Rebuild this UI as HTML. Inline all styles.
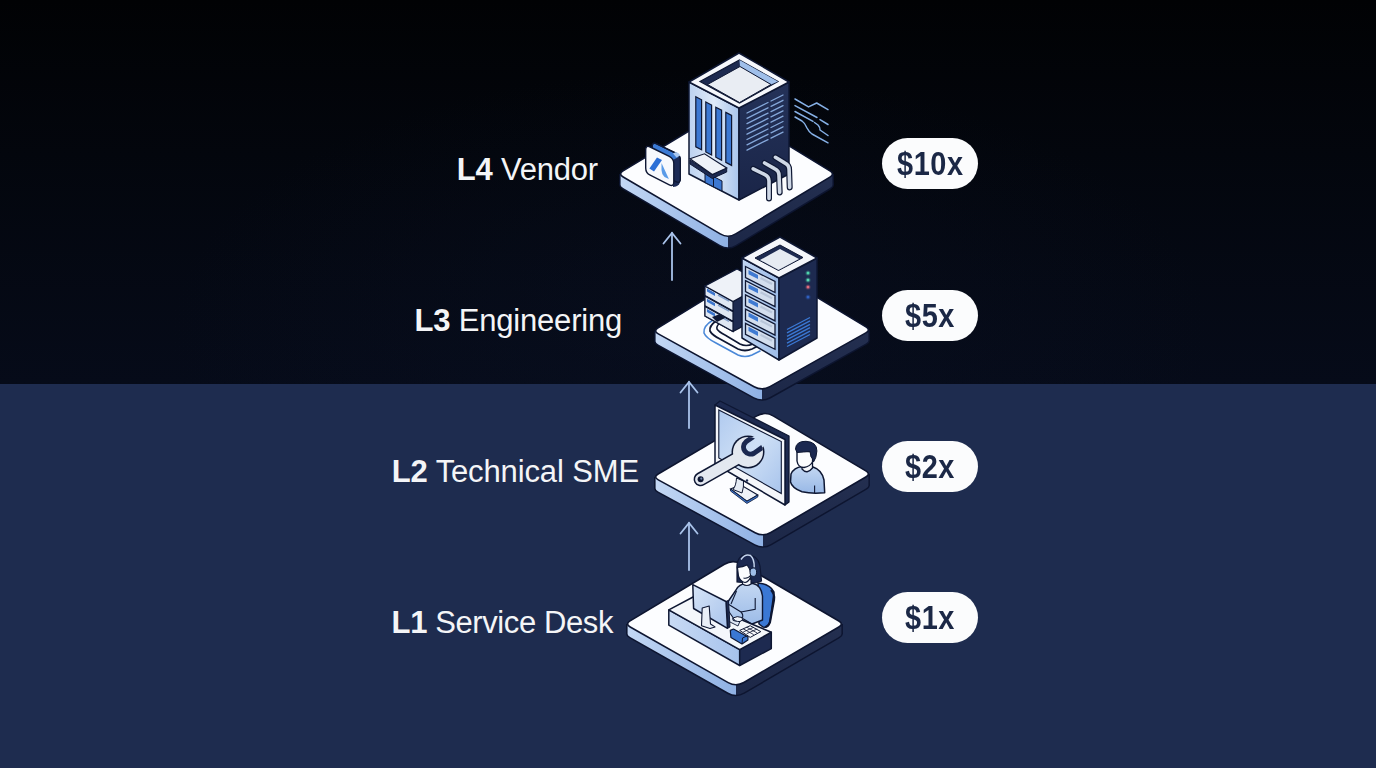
<!DOCTYPE html><html><head><meta charset="utf-8"><style>
html,body{margin:0;padding:0;width:1376px;height:768px;overflow:hidden;background:#1e2c4f}
body{position:relative;font-family:"Liberation Sans",sans-serif}
.top{position:absolute;left:0;top:0;width:1376px;height:384px;background:radial-gradient(ellipse 520px 260px at 690px 330px,rgba(12,20,42,0.3),rgba(14,22,44,0) 100%),linear-gradient(to bottom,#010204 0%,#03060d 40%,#060b19 100%)}
.bot{position:absolute;left:0;top:384px;width:1376px;height:384px;background:#1e2c4f}
.lbl{position:absolute;color:#f4f5f7;font-size:31px;white-space:nowrap;line-height:1}
.lbl b{font-weight:700}
.pill{position:absolute;left:882px;width:96px;height:51px;border-radius:26px;background:#fbfcfd;color:#1b2846;font-size:32.5px;font-weight:700;letter-spacing:0.6px;text-align:center;line-height:52px}
.pill span{display:inline-block;transform:scaleX(0.89) translateX(0px);transform-origin:50% 50%}
svg{position:absolute;left:0;top:0}
</style></head><body>
<div class="top"></div><div class="bot"></div>

<div class="lbl" style="left:456.7px;top:154.2px;letter-spacing:-0.2px"><b>L4</b> Vendor</div>
<div class="lbl" style="left:414.6px;top:305px;letter-spacing:-0.2px"><b>L3</b> Engineering</div>
<div class="lbl" style="left:391.8px;top:456.2px;letter-spacing:-0.13px"><b>L2</b> Technical SME</div>
<div class="lbl" style="left:391.6px;top:607.1px;letter-spacing:-0.4px"><b>L1</b> Service Desk</div>
<div class="pill" style="top:138px"><span>$10x</span></div>
<div class="pill" style="top:290px"><span>$5x</span></div>
<div class="pill" style="top:441px"><span>$2x</span></div>
<div class="pill" style="top:592px"><span>$1x</span></div>
<svg width="1376" height="768" viewBox="0 0 1376 768">
<defs>
<linearGradient id="gl" x1="0" y1="0" x2="1" y2="0"><stop offset="0" stop-color="#c9dcf6"/><stop offset="1" stop-color="#8fb1e4"/></linearGradient>
<linearGradient id="gr" x1="0" y1="0" x2="0" y2="1"><stop offset="0" stop-color="#2a3658"/><stop offset="1" stop-color="#1b2646"/></linearGradient>
<linearGradient id="gt" x1="0" y1="0" x2="0" y2="1"><stop offset="0" stop-color="#ffffff"/><stop offset="1" stop-color="#eef3fb"/></linearGradient>
</defs>
<clipPath id="c4"><path d="M735.5 124.2 L829.9 181.9 Q835.0 185.0 829.9 188.1 L735.7 244.9 Q728.0 249.5 720.2 244.9 L623.2 188.0 Q618.0 185.0 623.1 181.9 L718.4 124.2 Q727.0 119.0 735.5 124.2Z"/><path d="M620.6 174 L832.4 174 L832.4 185 L620.6 185Z"/></clipPath>
<path d="M735.5 124.2 L829.9 181.9 Q835.0 185.0 829.9 188.1 L735.7 244.9 Q728.0 249.5 720.2 244.9 L623.2 188.0 Q618.0 185.0 623.1 181.9 L718.4 124.2 Q727.0 119.0 735.5 124.2Z" fill="none" stroke="#0d1530" stroke-width="3"/>
<path d="M620.6 174 L620.6 185 M832.4 174 L832.4 185" stroke="#0d1530" stroke-width="3"/>
<g clip-path="url(#c4)"><rect x="608" y="108" width="120" height="151.5" fill="url(#gl)"/><rect x="728" y="108" width="117" height="151.5" fill="url(#gr)"/></g>
<path d="M735.5 113.2 L829.9 170.9 Q835.0 174.0 829.9 177.1 L735.7 233.9 Q728.0 238.5 720.2 233.9 L623.2 177.0 Q618.0 174.0 623.1 170.9 L718.4 113.2 Q727.0 108.0 735.5 113.2Z" fill="#fcfdff" stroke="#0d1530" stroke-width="1.6"/>
<g fill="none" stroke="#86b0e6" stroke-width="1.5" stroke-linecap="round" stroke-linejoin="round"><path d="M795 99 L808.5 106.9 L816.7 103 L828 109.6"/><path d="M795 105.6 L817 117.5"/><path d="M820 119.6 L828 124.5"/><path d="M795 111.5 L813 121.4"/><path d="M814.5 122.5 L818 125 Q820 127 820 130 L828 135.5"/><path d="M795 117 L802 121 Q805 123 807 128 Q809 132 812 134 L828 142.8"/></g>
<path d="M656.7 143.8 L675.8 153.2 Q680.3 155.4 680.3 160.4 L680.3 178.8 Q680.3 183.8 675.8 181.6 L656.7 172.0 Q652.2 169.8 652.2 164.8 L652.2 146.6 Q652.2 141.6 656.7 143.8Z" fill="#3b7ad4" stroke="#0e1733" stroke-width="1.3"/>
<path d="M673 160 L680.3 156 L680.3 181 Q679.8 185 676 186.5 L673 187Z" fill="#1b2a55"/>
<path d="M656.7 143.8 L675.8 153.2 Q680.3 155.4 680.3 160.4 L680.3 178.8 Q680.3 183.8 675.8 181.6 L656.7 172.0 Q652.2 169.8 652.2 164.8 L652.2 146.6 Q652.2 141.6 656.7 143.8Z" fill="none" stroke="#0e1733" stroke-width="1.3"/>
<path d="M676.5 157.5 L680.3 155.6 Q679 152.5 676 152 L673 153.5Z" fill="#a9c7f0"/>
<path d="M650.2 147.0 L669.3 156.4 Q673.8 158.6 673.8 163.6 L673.8 182.0 Q673.8 187.0 669.3 184.8 L650.2 175.2 Q645.7 173.0 645.7 168.0 L645.7 149.8 Q645.7 144.8 650.2 147.0Z" fill="#f7f9fd" stroke="#0e1733" stroke-width="1.4"/>
<path d="M657 157.5 L662 160 L654 171.5 L649.4 168.5Z" fill="#2c6fd6"/>
<path d="M661.5 163 L668.9 179 L664.5 177 Q661.5 174 661.5 170Z" fill="#5a9be8"/>
<defs><linearGradient id="bl4" x1="0" y1="0" x2="1" y2="0"><stop offset="0" stop-color="#bcd2f0"/><stop offset="0.5" stop-color="#dfeaf8"/><stop offset="1" stop-color="#a9c5ec"/></linearGradient><linearGradient id="br4" x1="0" y1="0" x2="0" y2="1"><stop offset="0" stop-color="#243259"/><stop offset="1" stop-color="#1a2548"/></linearGradient></defs>
<path d="M689.0 82.0 L739.0 108.0 L739.0 200.0 L689.0 174.0Z" fill="url(#bl4)" stroke="#0e1733" stroke-width="1.5" stroke-linejoin="round"/>
<path d="M739.0 108.0 L789.0 82.0 L789.0 174.0 L739.0 200.0Z" fill="url(#br4)" stroke="#0e1733" stroke-width="1.5" stroke-linejoin="round"/>
<path d="M739.0 53.0 L789.0 82.0 L739.0 108.0 L689.0 82.0Z" fill="#f6f8fc" stroke="#0e1733" stroke-width="1.5" stroke-linejoin="round"/>
<path d="M739.5 60.0 L778.0 81.5 L739.5 103.0 L700.0 81.5Z" fill="#1d2a50" stroke="#0e1733" stroke-width="1.2"/>
<path d="M739.5 60.0 L778.0 81.5 L771.0 84.5 L740.0 67.0Z" fill="#9fbfea"/>
<path d="M740.0 66.5 L771.0 84.5 L739.5 102.5 L707.5 84.5Z" fill="#e9edf3" stroke="#0e1733" stroke-width="1"/>
<path d="M695.8 96.8 L701.6 99.8 L701.6 149.8 L695.8 146.8Z" fill="#3c78d2" stroke="#0e1733" stroke-width="1.2"/>
<path d="M705.8 102.0 L711.6 105.0 L711.6 155.0 L705.8 152.0Z" fill="#3c78d2" stroke="#0e1733" stroke-width="1.2"/>
<path d="M715.8 107.2 L721.6 110.2 L721.6 160.2 L715.8 157.2Z" fill="#3c78d2" stroke="#0e1733" stroke-width="1.2"/>
<path d="M725.8 112.4 L731.6 115.4 L731.6 165.4 L725.8 162.4Z" fill="#3c78d2" stroke="#0e1733" stroke-width="1.2"/>
<path d="M705.0 172.0 L722.0 181.0 L722.0 191.0 L705.0 182.5Z" fill="#3c78d2" stroke="#0e1733" stroke-width="1"/>
<path d="M713.5 176.5 L713.5 187" stroke="#0e1733" stroke-width="1"/>
<path d="M690.0 160.0 L712.3 174.5 L726.7 168.0 L726.7 172.0 L712.3 178.5 L690.0 164.0Z" fill="#1d2a50" stroke="#0e1733" stroke-width="1"/>
<path d="M690.0 158.8 L704.5 153.8 L726.7 168.0 L712.3 174.5Z" fill="#eef2f8" stroke="#0e1733" stroke-width="1.2"/>
<path d="M747 113.0 L768 102.5 M771 101.0 L783 95.0 M747 118.3 L768 107.8 M771 106.3 L783 100.3 M747 123.6 L768 113.1 M771 111.6 L783 105.6 M747 128.9 L768 118.4 M771 116.9 L783 110.9 M747 134.2 L768 123.7 M771 122.2 L783 116.2 M747 139.5 L768 129.0 M771 127.5 L783 121.5 M747 144.8 L768 134.3 M771 132.8 L783 126.8 M747 150.1 L768 139.6 M771 138.1 L783 132.1" stroke="#8fb4e8" stroke-width="1.3" stroke-linecap="round" stroke-dasharray="none" opacity="0.9"/>
<path d="M753.2 168.8 L764.5 174.4 Q769.0 176.5 769.0 181 L769 198.5" fill="none" stroke="#0e1733" stroke-width="6" stroke-linecap="round"/>
<path d="M753.2 168.8 L764.5 174.4 Q769.0 176.5 769.0 181 L769 198.5" fill="none" stroke="#cfd8e6" stroke-width="3.6" stroke-linecap="round"/>
<path d="M764.6 163 L774.5 168.6 Q779.0 170.7 779.0 175.2 L779.7 192.4" fill="none" stroke="#0e1733" stroke-width="6" stroke-linecap="round"/>
<path d="M764.6 163 L774.5 168.6 Q779.0 170.7 779.0 175.2 L779.7 192.4" fill="none" stroke="#cfd8e6" stroke-width="3.6" stroke-linecap="round"/>
<path d="M775.4 157.3 L784.6 162.9 Q789.1 165.0 789.1 169.5 L789.7 187.4" fill="none" stroke="#0e1733" stroke-width="6" stroke-linecap="round"/>
<path d="M775.4 157.3 L784.6 162.9 Q789.1 165.0 789.1 169.5 L789.7 187.4" fill="none" stroke="#cfd8e6" stroke-width="3.6" stroke-linecap="round"/>
<clipPath id="c3"><path d="M770.6 279.7 L865.9 337.4 Q871.0 340.5 865.8 343.4 L769.9 397.1 Q762.0 401.5 754.1 397.2 L658.3 344.4 Q653.0 341.5 658.1 338.4 L753.5 279.7 Q762.0 274.5 770.6 279.7Z"/><path d="M655.6 331 L868.4 330 L868.4 340.5 L655.6 341.5Z"/></clipPath>
<path d="M770.6 279.7 L865.9 337.4 Q871.0 340.5 865.8 343.4 L769.9 397.1 Q762.0 401.5 754.1 397.2 L658.3 344.4 Q653.0 341.5 658.1 338.4 L753.5 279.7 Q762.0 274.5 770.6 279.7Z" fill="none" stroke="#0d1530" stroke-width="3"/>
<path d="M655.6 331 L655.6 341.5 M868.4 330 L868.4 340.5" stroke="#0d1530" stroke-width="3"/>
<g clip-path="url(#c3)"><rect x="643" y="264" width="119" height="147.5" fill="url(#gl)"/><rect x="762" y="264" width="119" height="147.5" fill="url(#gr)"/></g>
<path d="M770.6 269.2 L865.9 326.9 Q871.0 330.0 865.8 332.9 L769.9 386.6 Q762.0 391.0 754.1 386.7 L658.3 333.9 Q653.0 331.0 658.1 327.9 L753.5 269.2 Q762.0 264.0 770.6 269.2Z" fill="#fcfdff" stroke="#0d1530" stroke-width="1.6"/>
<g fill="none" stroke-linecap="round"><path d="M713 320 Q703 326 704 333 Q706 338 716 343 L738 355 Q745 358 752 355 L760 351" stroke="#4a88d8" stroke-width="1.6"/><path d="M716 321 Q709 326 710 331 Q712 335 720 339 L738 349 Q745 352 752 349 L758 346" stroke="#0e1733" stroke-width="1.8"/><path d="M721 322 Q716 326 717 329 Q719 332 725 335 L740 344 Q746 347 753 344" stroke="#0e1733" stroke-width="1.6"/></g>
<path d="M705.0 286.0 L733.0 301.5 L743.0 296.0 L743.0 326.0 L733.0 331.5 L705.0 316.0Z" fill="#1d2a50" stroke="#0e1733" stroke-width="1.3"/>
<path d="M705.0 286.0 L733.0 301.5 L733.0 311.0 L705.0 295.5Z" fill="#dfe7f3" stroke="#0e1733" stroke-width="1.2"/>
<path d="M707.0 288.5 L715.0 293.0 L715.0 296.0 L707.0 291.5Z" fill="#3a74cc"/>
<path d="M718 295.0 L729 301.0" stroke="#7f9cc8" stroke-width="1.5"/>
<path d="M705.0 296.2 L733.0 311.7 L733.0 321.2 L705.0 305.7Z" fill="#dfe7f3" stroke="#0e1733" stroke-width="1.2"/>
<path d="M707.0 298.7 L715.0 303.2 L715.0 306.2 L707.0 301.7Z" fill="#3a74cc"/>
<path d="M718 305.2 L729 311.2" stroke="#7f9cc8" stroke-width="1.5"/>
<path d="M705.0 306.4 L733.0 321.9 L733.0 331.4 L705.0 315.9Z" fill="#dfe7f3" stroke="#0e1733" stroke-width="1.2"/>
<path d="M707.0 308.9 L715.0 313.4 L715.0 316.4 L707.0 311.9Z" fill="#3a74cc"/>
<path d="M718 315.4 L729 321.4" stroke="#7f9cc8" stroke-width="1.5"/>
<path d="M737.0 269.0 L743.0 272.3 L743.0 296.0 L733.0 301.5 L705.0 286.0Z" fill="#eef2f8" stroke="#0e1733" stroke-width="1.3"/>
<path d="M712.0 317.0 L720.0 314.0 L725.0 318.0 L717.0 322.0Z" fill="#0e1733"/>
<defs><linearGradient id="tl3" x1="0" y1="0" x2="1" y2="0"><stop offset="0" stop-color="#c2d6f2"/><stop offset="1" stop-color="#9dbce8"/></linearGradient></defs>
<path d="M742.0 258.0 L779.0 278.0 L779.0 360.0 L742.0 338.0Z" fill="url(#tl3)" stroke="#0e1733" stroke-width="1.5" stroke-linejoin="round"/>
<path d="M779.0 278.0 L817.0 258.0 L817.0 338.0 L779.0 360.0Z" fill="#1d2a50" stroke="#0e1733" stroke-width="1.5" stroke-linejoin="round"/>
<path d="M780.0 237.0 L817.0 258.0 L779.0 278.0 L742.0 258.0Z" fill="#f4f6fa" stroke="#0e1733" stroke-width="1.5" stroke-linejoin="round"/>
<path d="M780.0 245.0 L803.0 257.5 L778.5 270.5 L755.0 258.0Z" fill="#1d2a50" stroke="#0e1733" stroke-width="1"/>
<path d="M780.0 249.0 L799.0 259.0 L778.5 270.0 L760.0 260.0Z" fill="#e6ebf2"/>
<path d="M745.5 266.5 L775.0 281.5 L775.0 292.5 L745.5 277.5Z" fill="#d3deee" stroke="#0e1733" stroke-width="1.3"/>
<path d="M748.5 270.0 L758.0 274.9 L758.0 279.1 L748.5 274.2Z" fill="#3f7ad2"/>
<path d="M760.5 278.0 L772 284.0" stroke="#b9c6da" stroke-width="2.2"/>
<path d="M745.5 280.7 L775.0 295.7 L775.0 306.7 L745.5 291.7Z" fill="#d3deee" stroke="#0e1733" stroke-width="1.3"/>
<path d="M748.5 284.2 L758.0 289.1 L758.0 293.3 L748.5 288.4Z" fill="#3f7ad2"/>
<path d="M760.5 292.2 L772 298.2" stroke="#b9c6da" stroke-width="2.2"/>
<path d="M745.5 294.9 L775.0 309.9 L775.0 320.9 L745.5 305.9Z" fill="#d3deee" stroke="#0e1733" stroke-width="1.3"/>
<path d="M748.5 298.4 L758.0 303.3 L758.0 307.5 L748.5 302.6Z" fill="#3f7ad2"/>
<path d="M760.5 306.4 L772 312.4" stroke="#b9c6da" stroke-width="2.2"/>
<path d="M745.5 309.1 L775.0 324.1 L775.0 335.1 L745.5 320.1Z" fill="#d3deee" stroke="#0e1733" stroke-width="1.3"/>
<path d="M748.5 312.6 L758.0 317.5 L758.0 321.7 L748.5 316.8Z" fill="#3f7ad2"/>
<path d="M760.5 320.6 L772 326.6" stroke="#b9c6da" stroke-width="2.2"/>
<path d="M745.5 323.3 L775.0 338.3 L775.0 349.3 L745.5 334.3Z" fill="#d3deee" stroke="#0e1733" stroke-width="1.3"/>
<path d="M748.5 326.8 L758.0 331.7 L758.0 335.9 L748.5 331.0Z" fill="#3f7ad2"/>
<path d="M760.5 334.8 L772 340.8" stroke="#b9c6da" stroke-width="2.2"/>
<circle cx="808" cy="273" r="2.6" fill="#4fd4ac" opacity="0.25"/><circle cx="808" cy="273" r="1.5" fill="#4fd4ac"/>
<circle cx="808" cy="280" r="2.6" fill="#58d8b0" opacity="0.25"/><circle cx="808" cy="280" r="1.5" fill="#58d8b0"/>
<circle cx="808" cy="287" r="2.6" fill="#e06a7c" opacity="0.25"/><circle cx="808" cy="287" r="1.5" fill="#e06a7c"/>
<circle cx="808" cy="297" r="2.6" fill="#2f5fc0" opacity="0.25"/><circle cx="808" cy="297" r="1.5" fill="#2f5fc0"/>
<path d="M787 329.5 L810 317.5 M787 332.9 L810 320.9 M787 336.3 L810 324.3 M787 339.7 L810 327.7 M787 343.1 L810 331.1 M787 346.5 L810 334.5" stroke="#3a78d4" stroke-width="1.4"/>
<clipPath id="c2"><path d="M773.6 427.6 L865.8 482.4 Q871.0 485.5 865.8 488.5 L770.8 544.0 Q763.0 548.5 755.1 544.2 L658.3 491.4 Q653.0 488.5 658.2 485.5 L756.4 427.6 Q765.0 422.5 773.6 427.6Z"/><path d="M655.6 477 L868.4 474 L868.4 485.5 L655.6 488.5Z"/></clipPath>
<path d="M773.6 427.6 L865.8 482.4 Q871.0 485.5 865.8 488.5 L770.8 544.0 Q763.0 548.5 755.1 544.2 L658.3 491.4 Q653.0 488.5 658.2 485.5 L756.4 427.6 Q765.0 422.5 773.6 427.6Z" fill="none" stroke="#0d1530" stroke-width="3"/>
<path d="M655.6 477 L655.6 488.5 M868.4 474 L868.4 485.5" stroke="#0d1530" stroke-width="3"/>
<g clip-path="url(#c2)"><rect x="643" y="411" width="120" height="147.5" fill="url(#gl)"/><rect x="763" y="411" width="118" height="147.5" fill="url(#gr)"/></g>
<path d="M773.6 416.1 L865.8 470.9 Q871.0 474.0 865.8 477.0 L770.8 532.5 Q763.0 537.0 755.1 532.7 L658.3 479.9 Q653.0 477.0 658.2 474.0 L756.4 416.1 Q765.0 411.0 773.6 416.1Z" fill="#fcfdff" stroke="#0d1530" stroke-width="1.6"/>
<path d="M715.0 405.0 L720.0 401.0 L789.0 436.0 L789.0 502.0 L785.0 505.0 L785.0 439.5Z" fill="#1d2a50" stroke="#0e1733" stroke-width="1.3" stroke-linejoin="round"/>
<path d="M730.5 489.0 L740.6 484.8 L757.8 495.0 L746.9 501.3Z" fill="#eef2f8" stroke="#0e1733" stroke-width="1.2"/>
<path d="M730.5 489 L746.9 501.3 L757.8 495 L757.8 497 L746.9 503.5 L730.5 491Z" fill="#3a74cc" stroke="#0e1733" stroke-width="0.8"/>
<path d="M736.5 478 Q736 486 733 489.5 L742 493 Q744 487 743.5 481Z" fill="#e6ecf5" stroke="#0e1733" stroke-width="1"/>
<path d="M715.0 405.0 L785.0 439.5 L785.0 505.0 L715.0 464.0Z" fill="#f4f6fa" stroke="#0e1733" stroke-width="1.5" stroke-linejoin="round"/>
<defs><linearGradient id="scr2" x1="0" y1="0" x2="1" y2="1"><stop offset="0" stop-color="#b0caef"/><stop offset="0.5" stop-color="#cfe0f6"/><stop offset="1" stop-color="#a8c4ec"/></linearGradient></defs>
<path d="M718.8 410.0 L781.3 441.5 L781.3 493.5 L718.8 458.0Z" fill="url(#scr2)" stroke="#0e1733" stroke-width="1.1"/>
<circle cx="747" cy="480.5" r="1.2" fill="#1d2a50"/>
<mask id="wm" maskUnits="userSpaceOnUse" x="600" y="380" width="300" height="200"><rect x="600" y="380" width="300" height="200" fill="#fff"/><path d="M766.5 427.5 L746 441.8 A7 7 0 0 0 754 453.2 L774.5 438.9Z" fill="#000"/></mask>
<clipPath id="wh"><circle cx="748" cy="452" r="15"/></clipPath>
<g mask="url(#wm)"><path d="M700.6 479.2 L745 454" stroke="#0e1733" stroke-width="14" stroke-linecap="round"/><circle cx="748" cy="452" r="16.5" fill="#0e1733"/><path d="M700.6 479.2 L745 454" stroke="#e3e8f0" stroke-width="11" stroke-linecap="round"/><circle cx="748" cy="452" r="15" fill="#e3e8f0"/></g>
<g clip-path="url(#wh)"><path d="M766.5 427.5 L746 441.8 A7 7 0 0 0 754 453.2 L774.5 438.9" fill="none" stroke="#1b2850" stroke-width="5"/></g>
<circle cx="700.6" cy="479.2" r="3" fill="#0e1733"/><circle cx="701.3" cy="478.6" r="1.1" fill="#6f86ad"/>
<path d="M791 474 Q794 467.5 802 466.5 L813 467 Q822 470 824 480 L824.7 492.7 Q812 494 802 491.8 Q792 488 790.5 482 Z" fill="url(#pb2)" stroke="#0e1733" stroke-width="1.5" stroke-linejoin="round"/>
<defs><linearGradient id="pb2" x1="0" y1="0" x2="0" y2="1"><stop offset="0" stop-color="#c3d7f2"/><stop offset="1" stop-color="#98b8e6"/></linearGradient></defs>
<path d="M802 465 L802 469 Q807 475 812.5 468 L812.5 462Z" fill="#f6f8fc" stroke="#0e1733" stroke-width="1.3"/>
<path d="M814.6 485.6 L814.6 492.9" stroke="#0e1733" stroke-width="1.1"/>
<path d="M797 450 L797 461 Q798 467.5 804 467.5 Q810 466.5 812.5 462 L813 452Z" fill="#fbfcfe" stroke="#0e1733" stroke-width="1.4" stroke-linejoin="round"/>
<path d="M795.5 449 Q796 441 806 441.3 Q817 442 816.9 451 Q816.5 458 813.5 462 L812 458 Q810.5 457 810.5 454 L810 451.5 Q803 452 797 452.5Z" fill="#1b2850" stroke="#0e1733" stroke-width="1"/>
<clipPath id="c1"><path d="M741.6 574.1 L838.8 631.0 Q844.0 634.0 838.8 637.0 L743.8 692.5 Q736.0 697.0 728.2 692.6 L630.2 637.0 Q625.0 634.0 630.1 630.9 L724.4 574.2 Q733.0 569.0 741.6 574.1Z"/><path d="M627.6 624 L841.4 624 L841.4 634 L627.6 634Z"/></clipPath>
<path d="M741.6 574.1 L838.8 631.0 Q844.0 634.0 838.8 637.0 L743.8 692.5 Q736.0 697.0 728.2 692.6 L630.2 637.0 Q625.0 634.0 630.1 630.9 L724.4 574.2 Q733.0 569.0 741.6 574.1Z" fill="none" stroke="#0d1530" stroke-width="3"/>
<path d="M627.6 624 L627.6 634 M841.4 624 L841.4 634" stroke="#0d1530" stroke-width="3"/>
<g clip-path="url(#c1)"><rect x="615" y="559" width="121" height="148" fill="url(#gl)"/><rect x="736" y="559" width="118" height="148" fill="url(#gr)"/></g>
<path d="M741.6 564.1 L838.8 621.0 Q844.0 624.0 838.8 627.0 L743.8 682.5 Q736.0 687.0 728.2 682.6 L630.2 627.0 Q625.0 624.0 630.1 620.9 L724.4 564.2 Q733.0 559.0 741.6 564.1Z" fill="#fcfdff" stroke="#0d1530" stroke-width="1.6"/>
<path d="M758 583 Q770 584 774 592 L770 622 Q768 628 763 627 L759 624 Z" fill="#3a78d4" stroke="#0e1733" stroke-width="1.5" stroke-linejoin="round"/>
<path d="M771 590 Q775 594 774 600 L770 622 Q768 627 765 627" fill="none" stroke="#0e1733" stroke-width="2.2"/>
<path d="M737 570 Q736 556 746 554.5 Q758 555 760 566 L761.5 581 Q755 584 748 583 L737 582Z" fill="#1b2850" stroke="#0e1733" stroke-width="1.2"/>
<defs><linearGradient id="pb1" x1="0" y1="0" x2="0" y2="1"><stop offset="0" stop-color="#c3d7f2"/><stop offset="1" stop-color="#9dbce8"/></linearGradient></defs>
<path d="M736 590 Q739 584 746 583.5 L753 583.5 Q761 585 762.5 596 L762.5 620 L752 624 L740 617 L728 607 Q726 604 728.5 601 Z" fill="url(#pb1)" stroke="#0e1733" stroke-width="1.4" stroke-linejoin="round"/>
<path d="M736.5 591 L731 604" fill="none" stroke="#0e1733" stroke-width="1.1"/>
<path d="M755.2 598 L755.2 609.4 L741 612" fill="none" stroke="#0e1733" stroke-width="1.1"/>
<path d="M742.5 580 L742.5 584 Q747 587 751 584 L751 579Z" fill="#f6f8fc" stroke="#0e1733" stroke-width="1.1"/>
<path d="M737.5 567.5 Q743 567 747 565 Q751 570 751 576 Q749 582 745 582.5 Q740 581.5 738.5 576Z" fill="#fbfcfe" stroke="#0e1733" stroke-width="1.1"/>
<path d="M741 559.5 Q745 553.5 750.5 555.5 Q754.5 559 754.2 567.5" fill="none" stroke="#c5d5ee" stroke-width="1.5"/>
<ellipse cx="753.3" cy="572.2" rx="3.3" ry="4.2" fill="#9ebde8" stroke="#0e1733" stroke-width="1"/>
<path d="M751 575 Q748 579 743.5 578" fill="none" stroke="#0e1733" stroke-width="1.1"/>
<defs><linearGradient id="dk1" x1="0" y1="0" x2="1" y2="0"><stop offset="0" stop-color="#c8daf4"/><stop offset="1" stop-color="#a6c2ec"/></linearGradient></defs>
<path d="M668.8 609.9 L739.7 649.7 L739.7 665.5 L668.8 625.1Z" fill="url(#dk1)" stroke="#0e1733" stroke-width="1.5" stroke-linejoin="round"/>
<path d="M739.7 649.7 L771.3 632.2 L771.3 648.6 L739.7 665.5Z" fill="#1d2a50" stroke="#0e1733" stroke-width="1.5" stroke-linejoin="round"/>
<path d="M668.8 609.9 L694.0 596.5 L742.0 620.0 L771.3 632.2 L739.7 649.7Z" fill="#f4f7fb" stroke="#0e1733" stroke-width="1.5" stroke-linejoin="round"/>
<path d="M727.0 608.0 L742.0 616.3 L738.0 626.0 L726.0 620.0Z" fill="#dfe8f5" stroke="#0e1733" stroke-width="0.9"/>
<path d="M728 604 L741 612 Q744 615 742 619 L736 621 Q732 621 733 617.5 L727 609Z" fill="url(#pb1)" stroke="#0e1733" stroke-width="1.1" stroke-linejoin="round"/>
<path d="M733 618 Q737 615.5 742 617.5 Q744 620.5 740 621.5 Q735 622 733 618Z" fill="#f1f5fb" stroke="#0e1733" stroke-width="1"/>
<defs><linearGradient id="mn1" x1="0" y1="0" x2="1" y2="1"><stop offset="0" stop-color="#d6e4f7"/><stop offset="1" stop-color="#a9c4ec"/></linearGradient></defs>
<path d="M726.0 601.5 L728.5 600.3 L730.0 627.0 L727.5 628.3Z" fill="#1d2a50" stroke="#0e1733" stroke-width="1"/>
<path d="M692.8 584.7 L726.0 601.5 L727.5 628.3 L693.6 608.5Z" fill="url(#mn1)" stroke="#0e1733" stroke-width="1.5" stroke-linejoin="round"/>
<path d="M702.2 608.0 L709.2 606.0 L710.5 624.0 L715.0 626.9 L710.0 628.5 L701.5 625.7Z" fill="#e9eff8" stroke="#0e1733" stroke-width="1.1" stroke-linejoin="round"/>
<path d="M739.7 630.4 L750.2 625.7 L760.8 631.6 L750.2 637.4Z" fill="#f7f9fd" stroke="#0e1733" stroke-width="1"/>
<path d="M743.2 628.8 L753.7 634.6 M746.7 627.2 L757.2 633 M743.2 632 L753.7 627.3 M746.7 633.7 L757.2 629" fill="none" stroke="#0e1733" stroke-width="0.8"/>
<path d="M730.3 630.4 L733.5 629.0 L748.0 637.0 L747.9 640.0 L742.0 643.9 L730.9 637.4Z" fill="#3a78d4" stroke="#0e1733" stroke-width="1.2" stroke-linejoin="round"/>
<path d="M742 643.9 L742.5 638 L747.9 635.5" fill="none" stroke="#0e1733" stroke-width="1"/>
<g stroke="#a9c3ea" stroke-width="1.8" fill="none" stroke-linecap="round"><path d="M672 233 L672 280"/><path d="M663.5 243.5 L672 233 L680.5 243.5"/></g>
<g stroke="#a9c3ea" stroke-width="1.8" fill="none" stroke-linecap="round"><path d="M689 382 L689 428"/><path d="M680.5 392.5 L689 382 L697.5 392.5"/></g>
<g stroke="#a9c3ea" stroke-width="1.8" fill="none" stroke-linecap="round"><path d="M689 523 L689 570"/><path d="M680.5 533.5 L689 523 L697.5 533.5"/></g>
</svg>
</body></html>
